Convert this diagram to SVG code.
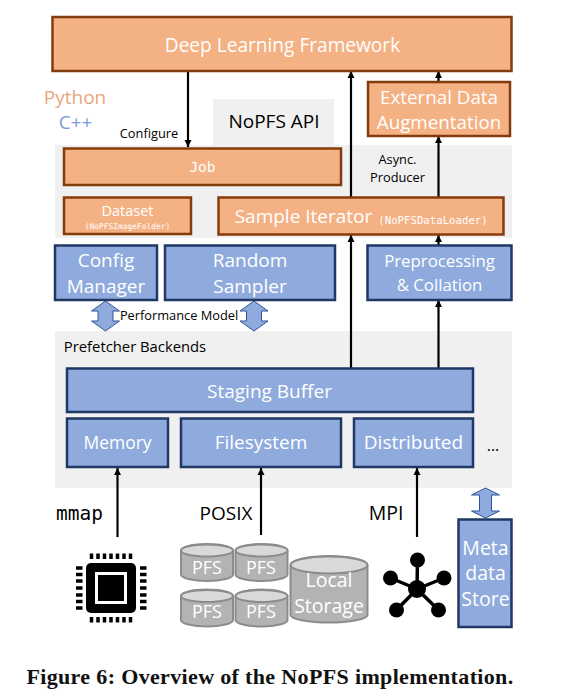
<svg xmlns="http://www.w3.org/2000/svg" width="561" height="698" viewBox="0 0 561 698">
<defs>
<marker id="ah" markerUnits="userSpaceOnUse" markerWidth="8" markerHeight="8" refX="7" refY="4" orient="auto"><path d="M0 0.5L7 4L0 7.500Z" fill="#000"/></marker>
<g id="cyl"><path d="M0 6.500V30.500C0 34 11.500 37 26 37S52 34 52 30.500V6.500C52 3 40.500 0 26 0S0 3 0 6.500Z" fill="#b3b3b3" stroke="#8c8c8c" stroke-width="2"/><ellipse cx="26" cy="6.500" rx="26" ry="6" fill="#d9d9d9" stroke="#8c8c8c" stroke-width="2"/></g>
</defs>
<style>
text{font-family:"Open Sans","Noto Sans",sans-serif;text-anchor:middle}
.o{fill:#f4b183;stroke:#843c0c;stroke-width:2.500}
.b{fill:#8faadc;stroke:#203864;stroke-width:2.500}
.p{fill:#f0f0f0}
.w{fill:#fff}
.k{fill:#000}
.m{font-family:"DejaVu Sans Mono","Liberation Mono",monospace}
.c{stroke:#000;stroke-width:2.200;fill:none;marker-end:url(#ah)}
.d{fill:#8faadc;stroke:#2f5597;stroke-width:1}
</style>
<rect width="561" height="698" fill="#fff"/>
<g id="panels">
<rect class="p" x="213" y="99" width="121" height="46"/>
<rect class="p" x="55" y="145" width="457" height="93"/>
<rect class="p" x="55" y="331" width="457" height="157"/>
</g>
<g id="connectors">
<path class="c" d="M188 71V147"/>
<path class="c" d="M351 197V71"/>
<path class="c" d="M351 368V235"/>
<path class="c" d="M438.500 82V71"/>
<path class="c" d="M438.500 197V136"/>
<path class="c" d="M438.500 245V235"/>
<path class="c" d="M438.500 368V300"/>
<path class="c" d="M117.500 537V468"/>
<path class="c" d="M261 535V468"/>
<path class="c" d="M417 537V468"/>
</g>
<g id="double-arrows">
<path class="d" d="M105.500 301L119.500 311H113V321H119.500L105.500 331L91.500 321H98V311H91.500Z"/>
<path class="d" d="M254 301L268 311H261.500V321H268L254 331L240 321H246.500V311H240Z"/>
<path class="d" d="M485.500 488L499.500 495H491.500V511H499.500L485.500 518L471.500 511H479.500V495H471.500Z"/>
</g>
<g id="dl-framework"><rect class="o" x="52.500" y="17" width="459" height="54"/><text class="w" x="282.500" y="52" font-size="19.100">Deep Learning Framework</text></g>
<g id="external"><rect class="o" x="368" y="82" width="142" height="54"/><text class="w" x="439" y="104" font-size="18.800">External Data</text><text class="w" x="439" y="129" font-size="18.800">Augmentation</text></g>
<g id="job"><rect class="o" x="64" y="148.500" width="277" height="36.500"/><text class="w m" x="202.500" y="172" font-size="14.500">Job</text></g>
<g id="dataset"><rect class="o" x="64" y="197.500" width="127" height="36.500"/><text class="w" x="127.500" y="216" font-size="14.500">Dataset</text><text class="w m" x="127.500" y="229" font-size="7.900">(NoPFSImageFolder)</text></g>
<g id="sample-iterator"><rect class="o" x="218.500" y="197.500" width="285" height="37"/><text class="w" x="303.500" y="223" font-size="19">Sample Iterator</text><text class="w m" x="433" y="224" font-size="10.700">(NoPFSDataLoader)</text></g>
<g id="config-manager"><rect class="b" x="55" y="245.500" width="102" height="54.500"/><text class="w" x="106" y="267" font-size="19">Config</text><text class="w" x="106" y="293" font-size="19">Manager</text></g>
<g id="random-sampler"><rect class="b" x="165" y="245.500" width="170" height="54.500"/><text class="w" x="250" y="267" font-size="19">Random</text><text class="w" x="250" y="293" font-size="19">Sampler</text></g>
<g id="preprocessing"><rect class="b" x="367.500" y="245.500" width="144" height="54.500"/><text class="w" x="439.500" y="267" font-size="16.800">Preprocessing</text><text class="w" x="439.500" y="291" font-size="16.800">&amp; Collation</text></g>
<g id="staging-buffer"><rect class="b" x="67" y="368.500" width="406" height="43.500"/><text class="w" x="269.500" y="398" font-size="19">Staging Buffer</text></g>
<g id="memory"><rect class="b" x="67" y="418.500" width="101" height="48.500"/><text class="w" x="117.500" y="449" font-size="17.500">Memory</text></g>
<g id="filesystem"><rect class="b" x="181" y="418.500" width="160" height="48.500"/><text class="w" x="261" y="449" font-size="19">Filesystem</text></g>
<g id="distributed"><rect class="b" x="354" y="418.500" width="119" height="48.500"/><text class="w" x="413.500" y="449" font-size="19">Distributed</text></g>
<g id="metadata-store"><rect class="b" x="458.500" y="519.500" width="53" height="107.500"/><text class="w" x="485.500" y="555" font-size="19.500">Meta</text><text class="w" x="485.500" y="580" font-size="19.500">data</text><text class="w" x="485.500" y="606" font-size="19.500">Store</text></g>
<g id="labels">
<text x="75" y="104" font-size="19" style="fill:#e8a57c">Python</text>
<text x="75.500" y="129" font-size="18.800" fill="#7c9bd4">C++</text>
<text class="k" x="149" y="138" font-size="12.800">Configure</text>
<text class="k" x="274" y="128" font-size="19">NoPFS API</text>
<text class="k" x="397.500" y="164" font-size="12.800">Async.</text>
<text class="k" x="397.500" y="182" font-size="12.800">Producer</text>
<text class="k" x="179" y="320" font-size="12.800">Performance Model</text>
<text class="k" x="135" y="352" font-size="14.800">Prefetcher Backends</text>
<text class="k" x="493" y="451" font-size="16">...</text>
<text class="k m" x="79.500" y="520" font-size="19.500">mmap</text>
<text class="k" x="226" y="520" font-size="19">POSIX</text>
<text class="k" x="386" y="520" font-size="19.500">MPI</text>
</g>
<g id="chip">
<rect x="86" y="563" width="50" height="50" rx="5" fill="#000"/>
<rect x="96.500" y="573.500" width="29" height="29" fill="#000" stroke="#fff" stroke-width="3"/>
<path d="M91.500 553.500V559M98 553.500V559M104.500 553.500V559M111 553.500V559M117.500 553.500V559M124 553.500V559M130.500 553.500V559M91.500 617V622.500M98 617V622.500M104.500 617V622.500M111 617V622.500M117.500 617V622.500M124 617V622.500M130.500 617V622.500M76 568H82.500M76 574.500H82.500M76 581H82.500M76 588H82.500M76 595H82.500M76 601.500H82.500M76 608H82.500M140 568H146.500M140 574.500H146.500M140 581H146.500M140 588H146.500M140 595H146.500M140 601.500H146.500M140 608H146.500" stroke="#000" stroke-width="3.500" fill="none"/>
</g>
<g id="pfs-1"><use href="#cyl" x="181" y="544"/><text class="w" x="207" y="574" font-size="18">PFS</text></g>
<g id="pfs-2"><use href="#cyl" x="235.500" y="544"/><text class="w" x="261" y="574" font-size="18">PFS</text></g>
<g id="pfs-3"><use href="#cyl" x="181" y="589.500"/><text class="w" x="207" y="618" font-size="18">PFS</text></g>
<g id="pfs-4"><use href="#cyl" x="235.500" y="589.500"/><text class="w" x="261" y="618" font-size="18">PFS</text></g>
<g id="local-storage"><path d="M290.500 565V615C290.500 619 308 622.500 329 622.500S367.500 619 367.500 615V565C367.500 560 350 556 329 556S290.500 560 290.500 565Z" fill="#b3b3b3" stroke="#8c8c8c" stroke-width="2"/><ellipse cx="329" cy="565" rx="38.500" ry="8.500" fill="#d9d9d9" stroke="#8c8c8c" stroke-width="2"/><text class="w" x="329" y="587" font-size="19.500">Local</text><text class="w" x="329" y="613" font-size="19.500">Storage</text></g>
<g id="network" fill="#000" stroke="#000">
<path d="M417 589L417.500 560M417 589L390.500 578M417 589L444 578M417 589L396.500 610M417 589L438.500 610" stroke-width="3.500" fill="none"/>
<circle cx="417" cy="589" r="9" stroke="none"/><circle cx="417.500" cy="560" r="7.500" stroke="none"/><circle cx="390.500" cy="578" r="7.500" stroke="none"/><circle cx="444" cy="578" r="7.500" stroke="none"/><circle cx="396.500" cy="610" r="7.500" stroke="none"/><circle cx="438.500" cy="610" r="7.500" stroke="none"/>
</g>
<g id="caption"><text x="270" y="684" font-size="22" font-weight="700" letter-spacing="0.350" fill="#111" style="font-family:'Liberation Serif',serif">Figure 6: Overview of the NoPFS implementation.</text></g>
</svg>
